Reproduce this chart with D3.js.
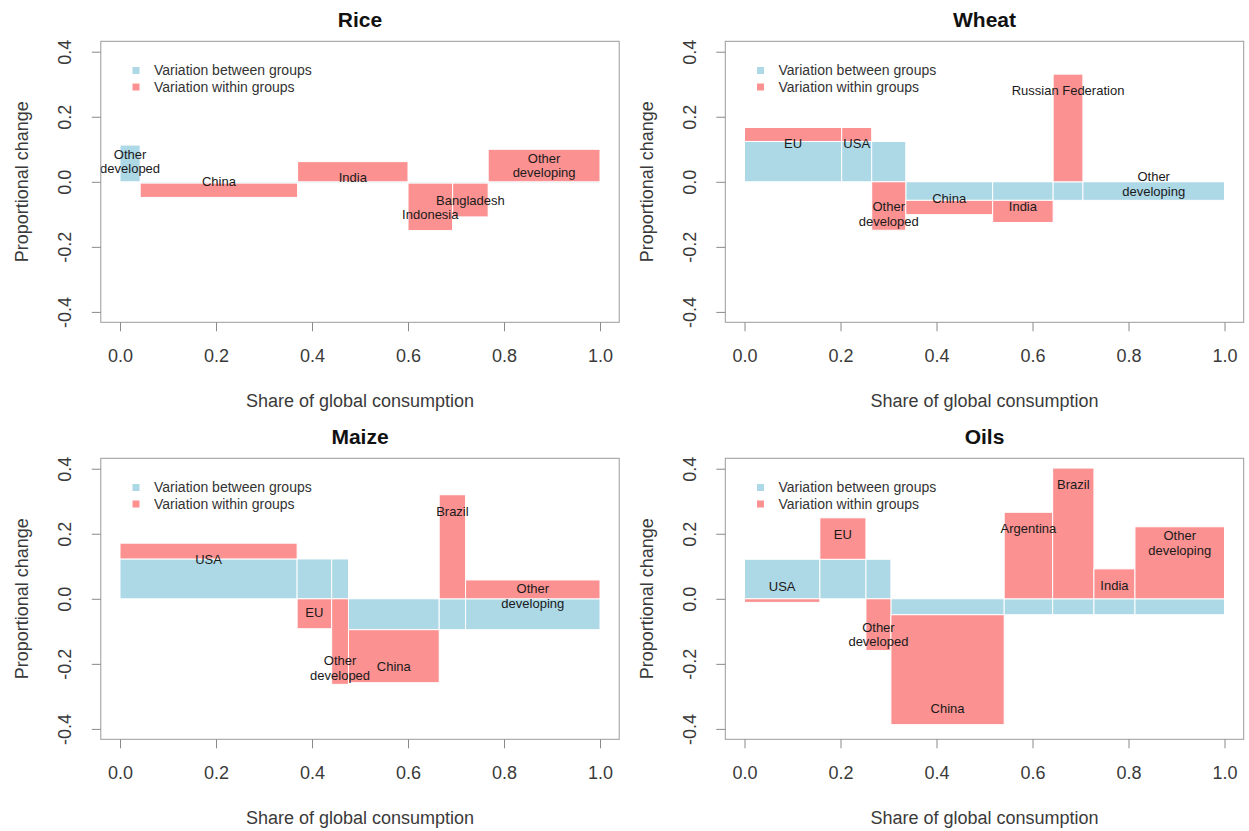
<!DOCTYPE html>
<html>
<head>
<meta charset="utf-8">
<script src="https://cdn.jsdelivr.net/npm/d3@7"></script>
<style>
  html, body { margin: 0; padding: 0; background: #fff; }
  svg { display: block; font-family: "Liberation Sans", Arial, sans-serif; }
</style>
</head>
<body>
<div id="chart"></div>
<script>
// shares of global consumption (bar widths), group membership, group mean (blue), total change
const riceNames  = ["Other\ndeveloped", "China", "India", "Indonesia", "Bangladesh", "Other\ndeveloping"];
const riceShare  = [0.042, 0.328, 0.230, 0.093, 0.074, 0.233];
const riceGroup  = ["dev", "dvg", "dvg", "dvg", "dvg", "dvg"];
const riceMean   = { dev: 0.113, dvg: -0.004 };
const riceTotal  = [0.113, -0.048, 0.062, -0.150, -0.108, 0.100];

const wheatNames = ["EU", "USA", "Other\ndeveloped", "China", "India", "Russian Federation", "Other\ndeveloping"];
const wheatShare = [0.2025, 0.0625, 0.071, 0.181, 0.126, 0.062, 0.295];
const wheatGroup = ["dev", "dev", "dev", "dvg", "dvg", "dvg", "dvg"];
const wheatMean  = { dev: 0.124, dvg: -0.057 };
const wheatTotal = [0.167, 0.167, -0.149, -0.101, -0.125, 0.331, -0.057];

const maizeNames = ["USA", "EU", "Other\ndeveloped", "China", "Brazil", "Other\ndeveloping"];
const maizeShare = [0.369, 0.072, 0.035, 0.189, 0.055, 0.280];
const maizeGroup = ["dev", "dev", "dev", "dvg", "dvg", "dvg"];
const maizeMean  = { dev: 0.1225, dvg: -0.095 };
const maizeTotal = [0.171, -0.092, -0.263, -0.258, 0.320, 0.058];

const oilsNames  = ["USA", "EU", "Other\ndeveloped", "China", "Argentina", "Brazil", "India", "Other\ndeveloping"];
const oilsShare  = [0.157, 0.096, 0.052, 0.236, 0.101, 0.086, 0.0855, 0.1865];
const oilsGroup  = ["dev", "dev", "dev", "dvg", "dvg", "dvg", "dvg", "dvg"];
const oilsMean   = { dev: 0.1215, dvg: -0.049 };
const oilsTotal  = [-0.011, 0.249, -0.159, -0.387, 0.266, 0.402, 0.092, 0.2215];

const xTicks = [0, 0.2, 0.4, 0.6, 0.8, 1.0];
const yTicks = [-0.4, -0.2, 0, 0.2, 0.4];
const legendItems = ["Variation between groups", "Variation within groups"];

const W = 1249, H = 831;
const BLUE = "#add8e6", RED = "#fb9191";
const fmt = d => d.toFixed(1); // plain hyphen minus, like R

const panels = [
  { title: "Rice",  names: riceNames,  share: riceShare,  group: riceGroup,  mean: riceMean,  total: riceTotal,  ox: 0,     oy: 0 },
  { title: "Wheat", names: wheatNames, share: wheatShare, group: wheatGroup, mean: wheatMean, total: wheatTotal, ox: 624.5, oy: 0 },
  { title: "Maize", names: maizeNames, share: maizeShare, group: maizeGroup, mean: maizeMean, total: maizeTotal, ox: 0,     oy: 417 },
  { title: "Oils",  names: oilsNames,  share: oilsShare,  group: oilsGroup,  mean: oilsMean,  total: oilsTotal,  ox: 624.5, oy: 417 }
];

const svg = d3.select("#chart").append("svg")
  .attr("width", W).attr("height", H);

panels.forEach(p => {
  const x = d3.scaleLinear().domain([-0.04, 1.04]).range([p.ox + 100.8, p.ox + 619.2]);
  const y = d3.scaleLinear().domain([-0.432, 0.432]).range([p.oy + 322.3, p.oy + 41.3]);
  const g = svg.append("g");

  // build bars from the arrays
  let cum = 0;
  const bars = p.names.map((name, i) => {
    const x0 = cum, x1 = cum + p.share[i];
    cum = x1;
    const m = p.mean[p.group[i]], t = p.total[i];
    const base = (Math.sign(t) === Math.sign(m) && Math.abs(t) >= Math.abs(m)) ? m : 0;
    return { name, x0, x1, m, t, base };
  });

  // between-group (blue) bars
  g.selectAll(".between").data(bars).join("rect")
    .attr("class", "between")
    .attr("x", d => x(d.x0))
    .attr("width", d => x(d.x1) - x(d.x0))
    .attr("y", d => y(Math.max(0, d.m)))
    .attr("height", d => Math.abs(y(0) - y(d.m)))
    .attr("fill", BLUE)
    .attr("stroke", "#fff").attr("stroke-width", 1);

  // within-group (red) bars
  g.selectAll(".within").data(bars.filter(d => Math.abs(y(d.t) - y(d.base)) > 0.5)).join("rect")
    .attr("class", "within")
    .attr("x", d => x(d.x0))
    .attr("width", d => x(d.x1) - x(d.x0))
    .attr("y", d => y(Math.max(d.base, d.t)))
    .attr("height", d => Math.abs(y(d.base) - y(d.t)))
    .attr("fill", RED)
    .attr("stroke", "#fff").attr("stroke-width", 1);

  // country labels
  const lineH = 14.5;
  const lab = g.selectAll(".lab").data(bars).join("text")
    .attr("class", "lab")
    .attr("font-size", 13)
    .attr("fill", "#1a1a1a")
    .attr("text-anchor", "middle");
  lab.each(function(d) {
    const lines = d.name.split("\n");
    const cx = x((d.x0 + d.x1) / 2);
    const cy = y(d.t - 0.05 * Math.sign(d.t));
    d3.select(this).selectAll("tspan").data(lines).join("tspan")
      .attr("x", cx)
      .attr("y", (l, j) => cy + (j - (lines.length - 1) / 2) * lineH)
      .attr("dy", "0.35em")
      .text(l => l);
  });

  // box
  g.append("rect")
    .attr("x", x(-0.04)).attr("y", y(0.432))
    .attr("width", x(1.04) - x(-0.04)).attr("height", y(-0.432) - y(0.432))
    .attr("fill", "none").attr("stroke", "#9a9a9a").attr("stroke-width", 1);

  // x axis
  const xa = g.append("g")
    .attr("transform", `translate(0,${y(-0.432)})`)
    .call(d3.axisBottom(x).tickValues(xTicks).tickFormat(fmt).tickSize(9).tickPadding(18));
  xa.select(".domain").remove();
  xa.selectAll("line").attr("stroke", "#8a8a8a");
  xa.selectAll("text").attr("font-size", 18).attr("fill", "#3a3a3a").attr("font-family", null);

  // y axis (R style rotated labels)
  const ya = g.append("g")
    .attr("transform", `translate(${x(-0.04)},0)`)
    .call(d3.axisLeft(y).tickValues(yTicks).tickFormat(fmt).tickSize(9));
  ya.select(".domain").remove();
  ya.selectAll("line").attr("stroke", "#8a8a8a");
  ya.selectAll("text")
    .attr("font-size", 18).attr("fill", "#3a3a3a").attr("font-family", null)
    .attr("text-anchor", "middle")
    .attr("x", 0).attr("y", -36).attr("dy", "0.35em")
    .attr("transform", "rotate(-90)");

  // axis titles
  g.append("text")
    .attr("x", (x(-0.04) + x(1.04)) / 2).attr("y", p.oy + 401)
    .attr("dy", "0.35em").attr("text-anchor", "middle")
    .attr("font-size", 18).attr("fill", "#3a3a3a")
    .text("Share of global consumption");
  g.append("text")
    .attr("transform", `translate(${p.ox + 22},${(y(0.432) + y(-0.432)) / 2}) rotate(-90)`)
    .attr("dy", "0.35em").attr("text-anchor", "middle")
    .attr("font-size", 18).attr("fill", "#3a3a3a")
    .text("Proportional change");

  // title
  g.append("text")
    .attr("x", (x(-0.04) + x(1.04)) / 2).attr("y", p.oy + 26.5)
    .attr("text-anchor", "middle")
    .attr("font-size", 21).attr("font-weight", "bold").attr("fill", "#111")
    .text(p.title);

  // legend
  const lg = g.append("g").attr("transform", `translate(${p.ox + 136},${p.oy + 70.5})`);
  lg.selectAll("rect").data(legendItems).join("rect")
    .attr("x", -3.5).attr("y", (d, i) => i * 16.5 - 3.5)
    .attr("width", 7).attr("height", 7)
    .attr("fill", (d, i) => i === 0 ? BLUE : RED);
  lg.selectAll("text").data(legendItems).join("text")
    .attr("x", 18).attr("y", (d, i) => i * 16.5)
    .attr("dy", "0.35em")
    .attr("font-size", 14).attr("fill", "#333")
    .text(d => d);
});
</script>
</body>
</html>
